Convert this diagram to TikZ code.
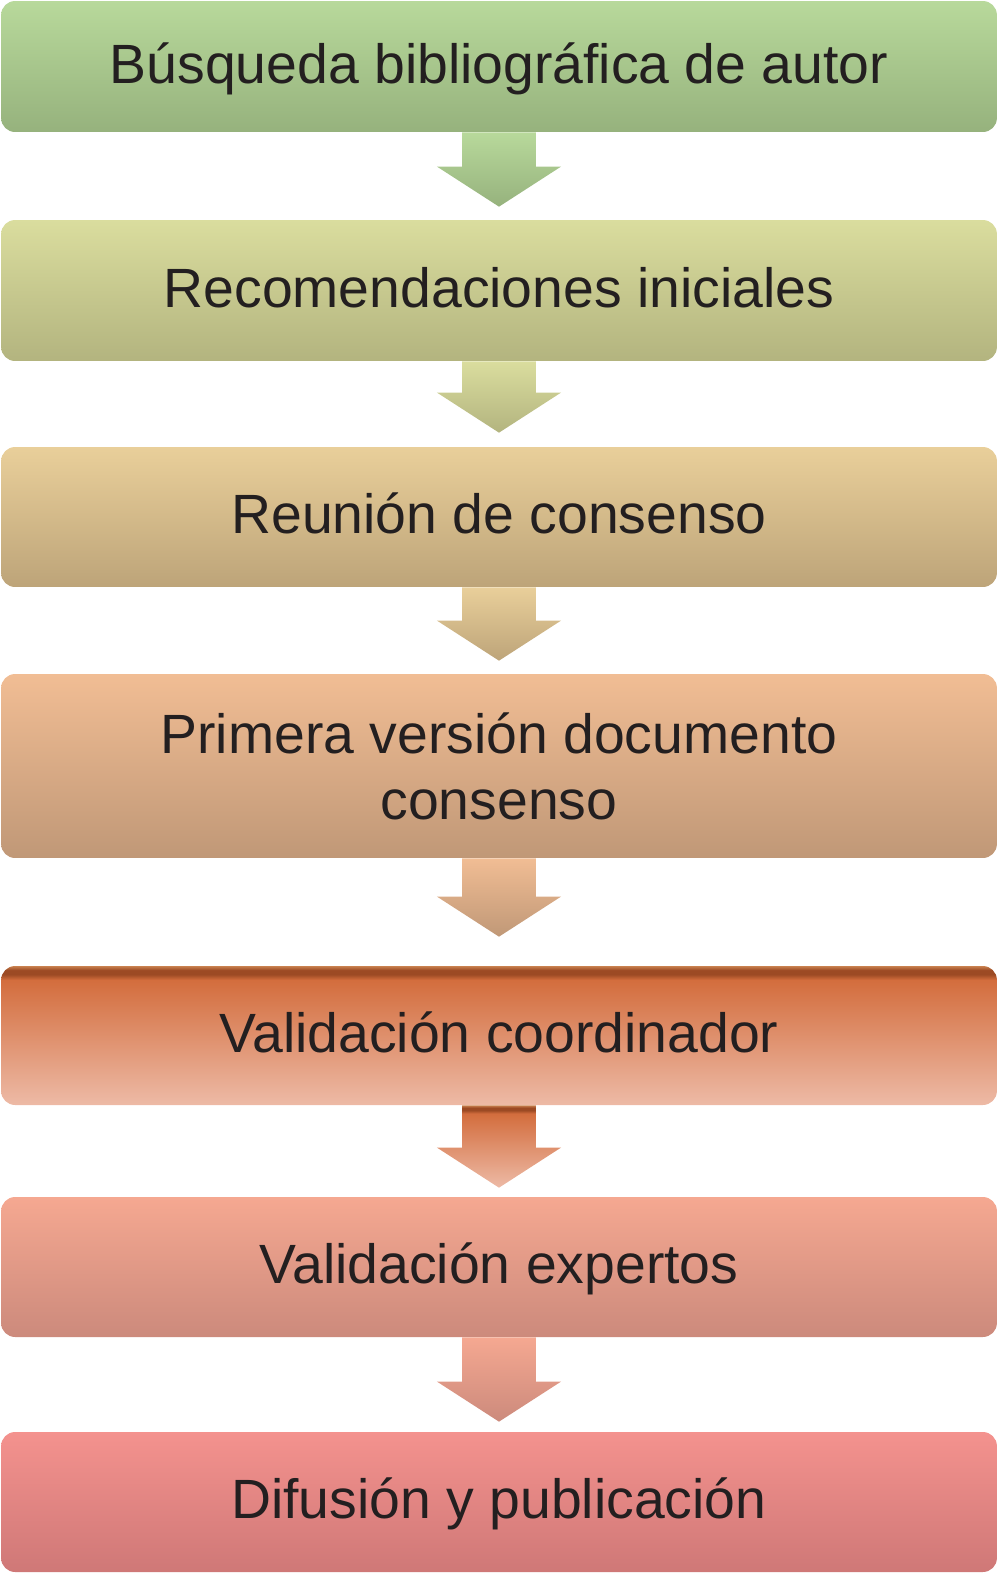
\documentclass[tikz,border=0pt]{standalone}
\usepackage{fontspec}
\setmainfont{Liberation Sans}
\usetikzlibrary{calc}

\definecolor{stagetext}{HTML}{231F20}
\definecolor{busqtop}{HTML}{B8D99B}
\definecolor{busqbot}{HTML}{96B27D}
\definecolor{recomtop}{HTML}{DADD9E}
\definecolor{recombot}{HTML}{B3B47F}
\definecolor{reuntop}{HTML}{E9CF9A}
\definecolor{reunbot}{HTML}{BDA479}
\definecolor{primtop}{HTML}{F1BD94}
\definecolor{primbot}{HTML}{C09877}
\definecolor{valcrim}{HTML}{C9814F}
\definecolor{valcdark}{HTML}{9C4A24}
\definecolor{valctop}{HTML}{D36D3D}
\definecolor{valcbot}{HTML}{EDBAA6}
\definecolor{valetop}{HTML}{F5A891}
\definecolor{valebot}{HTML}{CC8A7C}
\definecolor{difutop}{HTML}{F4928E}
\definecolor{difubot}{HTML}{CF7877}

\newcommand\stageshading[3]{%
  \pgfdeclareverticalshading{#1}{100bp}{color(0bp)=(#3); color(25bp)=(#3); color(75bp)=(#2); color(100bp)=(#2)}}
\stageshading{shbusq}{busqtop}{busqbot}
\stageshading{shrecom}{recomtop}{recombot}
\stageshading{shreun}{reuntop}{reunbot}
\stageshading{shprim}{primtop}{primbot}
\stageshading{shvale}{valetop}{valebot}
\stageshading{shdifu}{difutop}{difubot}
\pgfdeclareverticalshading{shvalc}{100bp}{color(0bp)=(valcbot); color(25bp)=(valcbot); color(70bp)=(valctop); color(72bp)=(valcdark); color(73.5bp)=(valcdark); color(75bp)=(valcrim); color(100bp)=(valcrim)}

\begin{document}
\begin{tikzpicture}[x=0.02cm,y=-0.02cm,
    stage/.style={shade, rounded corners=0.28cm, minimum width=19.92cm, inner sep=0pt,
        text=stagetext, font=\fontsize{31.5}{37.6}\selectfont, align=center},
    oneline/.style={text height=25.2pt, text depth=6.3pt}]
    \useasboundingbox (0,0) rectangle (1000,1573);
    \node[stage, oneline, shading=shbusq, minimum height=2.62cm] (busq) at (499,66.5) {Búsqueda bibliográfica de autor};
    \node[stage, oneline, shading=shrecom, minimum height=2.82cm] (recom) at (499,290.5) {Recomendaciones iniciales};
    \node[stage, oneline, shading=shreun, minimum height=2.80cm] (reun) at (499,517) {Reunión de consenso};
    \node[stage, shading=shprim, minimum height=3.68cm] (prim) at (499,766) {Primera versión documento\\consenso};
    \node[stage, oneline, shading=shvalc, minimum height=2.78cm] (valc) at (499,1035.5) {Validación coordinador};
    \node[stage, oneline, shading=shvale, minimum height=2.80cm] (vale) at (499,1267) {Validación expertos};
    \node[stage, oneline, shading=shdifu, minimum height=2.80cm] (difu) at (499,1502) {Difusión y publicación};
    \foreach \a/\b/\g/\s in {busq/recom/13/shbusq, recom/reun/14/shrecom, reun/prim/13/shreun,
                             prim/valc/29/shprim, valc/vale/9/shvalc, vale/difu/10/shvale} {
        \path[shade, shading=\s] let \p1=(\a.south), \p2=($(\b.north)+(0,-\g)$) in
            ({\x1-21.05pt},\y1) -- ({\x1+21.05pt},\y1) -- ({\x1+21.05pt},{\y2+22.8pt})
            -- ({\x1+35.3pt},{\y2+22.8pt}) -- (\x1,\y2) -- ({\x1-35.3pt},{\y2+22.8pt})
            -- ({\x1-21.05pt},{\y2+22.8pt}) -- cycle;
    }
\end{tikzpicture}
\end{document}
